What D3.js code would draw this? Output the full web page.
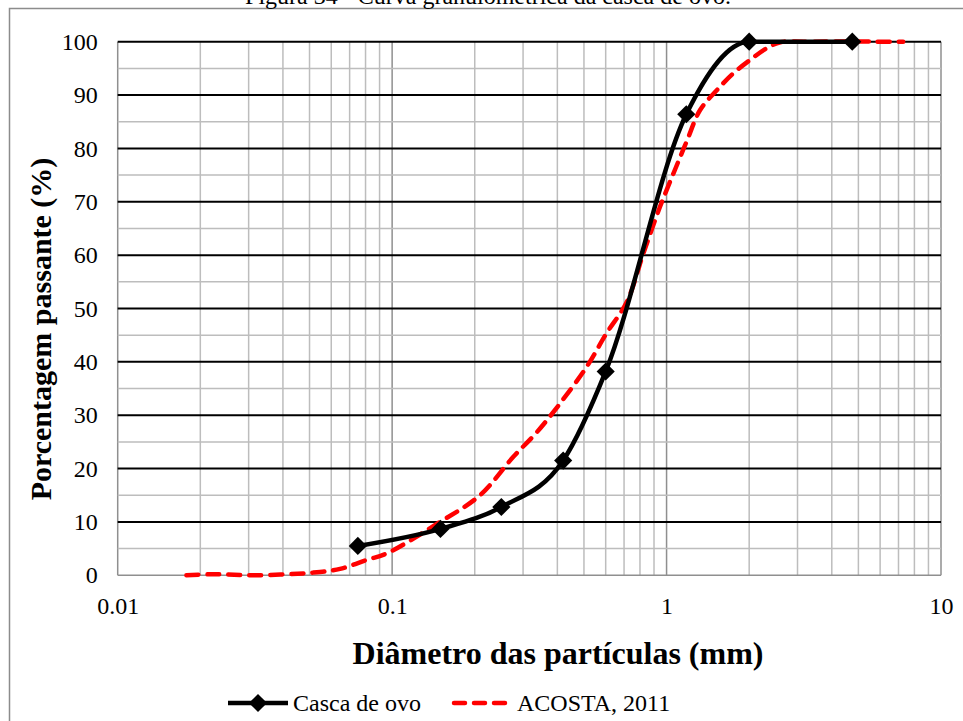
<!DOCTYPE html>
<html>
<head>
<meta charset="utf-8">
<script src="https://cdn.jsdelivr.net/npm/d3@7"></script>
<style>
  body { margin: 0; background: #fff; }
  svg { display: block; font-family: "Liberation Serif", "Times New Roman", serif; }
</style>
</head>
<body>
<div class="chart"></div>
<script>
'use strict'

let width = 963;
let height = 721;
const margin = {left: 117.7, right: 22, top: 41.7, bottom: 145.7};

/* Casca de ovo: diâmetro (mm) e porcentagem passante */
const cascaDiam = [0.075, 0.15, 0.25, 0.42, 0.6, 1.18, 2, 4.75];
const cascaPass = [5.5, 8.7, 12.8, 21.5, 38.2, 86.4, 100, 100];

/* ACOSTA, 2011 */
const acostaDiam = [0.0178, 0.0223, 0.0311, 0.0515, 0.0646, 0.0809, 0.0955, 0.1495, 0.209, 0.2765, 0.3365, 0.409, 0.512, 0.605, 0.716, 0.823, 0.947, 1.073, 1.19, 1.325, 1.524, 1.753, 2.018, 2.32, 2.6, 3.2, 7.28];
const acostaPass = [0, 0.2, 0, 0.5, 1.2, 2.9, 4.1, 10.0, 15.0, 22.2, 26.8, 32.2, 39.1, 45.4, 51.2, 60.3, 69.1, 76.0, 81.6, 87.2, 90.9, 94.1, 96.6, 98.8, 99.9, 100, 100];

const xTicks = [0.01, 0.1, 1, 10];
const xTickLabels = ['0.01', '0.1', '1', '10'];
const yTicks = [0, 10, 20, 30, 40, 50, 60, 70, 80, 90, 100];

const legendNames = ['Casca de ovo', 'ACOSTA, 2011'];

const svg = d3.select('.chart')
              .append('svg')
              .attr('width', width)
              .attr('height', height);

/* outer frame + caption (cut at the top, as in the source) */
svg.append('rect')
   .attr('x', 9.5).attr('y', 8.5)
   .attr('width', 970).attr('height', 730)
   .style('fill', 'none')
   .style('stroke', '#8c8c8c')
   .style('stroke-width', 1.5);

svg.append('text')
   .attr('x', 488).attr('y', 4)
   .attr('text-anchor', 'middle')
   .style('font-size', '24px')
   .text('Figura 34 - Curva granulométrica da casca de ovo.');

const xScale = d3.scaleLog()
                 .domain([0.01, 10])
                 .range([margin.left, width - margin.right]);
const yScale = d3.scaleLinear()
                 .domain([0, 100])
                 .range([height - margin.bottom, margin.top]);

const plotTop = yScale(100), plotBottom = yScale(0);
const plotLeft = xScale(0.01), plotRight = xScale(10);

/* vertical grid */
const minorX = [];
[0.01, 0.1, 1].forEach(dec => {
    for (let k = 2; k <= 9; k++) minorX.push(dec * k);
});
svg.append('g').selectAll('line')
   .data(minorX).enter().append('line')
   .attr('x1', d => xScale(d)).attr('x2', d => xScale(d))
   .attr('y1', plotTop).attr('y2', plotBottom)
   .style('stroke', '#bdbdbd').style('stroke-width', 1.5);
svg.append('g').selectAll('line')
   .data(xTicks).enter().append('line')
   .attr('x1', d => xScale(d)).attr('x2', d => xScale(d))
   .attr('y1', plotTop).attr('y2', plotBottom)
   .style('stroke', '#8f8f8f').style('stroke-width', 1.5);

/* horizontal grid */
const minorY = d3.range(5, 100, 10);
svg.append('g').selectAll('line')
   .data(minorY).enter().append('line')
   .attr('x1', plotLeft).attr('x2', plotRight)
   .attr('y1', d => yScale(d)).attr('y2', d => yScale(d))
   .style('stroke', '#bdbdbd').style('stroke-width', 1.5);
svg.append('g').selectAll('line')
   .data(yTicks.filter(d => d > 0)).enter().append('line')
   .attr('x1', plotLeft).attr('x2', plotRight)
   .attr('y1', d => yScale(d)).attr('y2', d => yScale(d))
   .style('stroke', '#000').style('stroke-width', 2);
svg.append('line')
   .attr('x1', plotLeft).attr('x2', plotRight)
   .attr('y1', plotBottom).attr('y2', plotBottom)
   .style('stroke', '#8f8f8f').style('stroke-width', 1.5);

/* axes */
const xAxis = d3.axisBottom(xScale)
                .tickValues(xTicks)
                .tickFormat((d, i) => xTickLabels[i])
                .tickSize(0)
                .tickPadding(22);
const gx = svg.append('g')
   .attr('transform', 'translate(0,' + plotBottom + ')')
   .call(xAxis);

const yAxis = d3.axisLeft(yScale)
                .tickValues(yTicks)
                .tickSize(0)
                .tickPadding(20);
const gy = svg.append('g')
   .attr('transform', 'translate(' + plotLeft + ',0)')
   .call(yAxis);

[gx, gy].forEach(g => {
    g.select('.domain').remove();
    g.selectAll('text')
     .style('font-family', '"Liberation Serif", serif')
     .style('font-size', '24px')
     .style('fill', '#000');
});

/* axis titles */
svg.append('text')
   .attr('x', 558)
   .attr('y', 664)
   .attr('text-anchor', 'middle')
   .style('font-size', '32px')
   .style('font-weight', 'bold')
   .text('Diâmetro das partículas (mm)');

svg.append('text')
   .attr('transform', 'translate(51,' + 329 + ') rotate(-90)')
   .attr('text-anchor', 'middle')
   .style('font-size', '30px')
   .style('font-weight', 'bold')
   .text('Porcentagem passante (%)');

/* series */
const acosta = acostaDiam.map((d, i) => [d, acostaPass[i]]);
const casca = cascaDiam.map((d, i) => [d, cascaPass[i]]);

const line = d3.line()
               .x(d => xScale(d[0]))
               .y(d => yScale(d[1]))
               .curve(d3.curveMonotoneX);
const smooth = d3.line()
               .x(d => xScale(d[0]))
               .y(d => yScale(d[1]))
               .curve(d3.curveCatmullRom.alpha(0.5));

svg.append('path')
   .datum(acosta)
   .attr('d', smooth)
   .style('fill', 'none')
   .style('stroke', '#ff0000')
   .style('stroke-width', 4.5)
   .style('stroke-dasharray', '12,9')
   .style('stroke-linecap', 'round');

svg.append('path')
   .datum(casca)
   .attr('d', line)
   .style('fill', 'none')
   .style('stroke', '#000')
   .style('stroke-width', 4.5);

const diamond = d3.symbol(d3.symbolSquare, 165);
svg.append('g').selectAll('path')
   .data(casca).enter().append('path')
   .attr('d', diamond)
   .attr('transform', d => 'translate(' + xScale(d[0]) + ',' + yScale(d[1]) + ') rotate(45)')
   .style('fill', '#000');

/* legend */
const legY = 703;
const leg = svg.append('g');
leg.append('line')
   .attr('x1', 228).attr('x2', 288).attr('y1', legY).attr('y2', legY)
   .style('stroke', '#000').style('stroke-width', 4.5);
leg.append('path')
   .attr('d', diamond)
   .attr('transform', 'translate(258,' + legY + ') rotate(45)')
   .style('fill', '#000');
leg.append('text')
   .attr('x', 293).attr('y', legY + 8)
   .style('font-size', '24px')
   .text(legendNames[0]);

leg.append('line')
   .attr('x1', 454).attr('x2', 511).attr('y1', legY).attr('y2', legY)
   .style('stroke', '#ff0000').style('stroke-width', 4.5)
   .style('stroke-dasharray', '11,9')
   .style('stroke-linecap', 'round');
leg.append('text')
   .attr('x', 517).attr('y', legY + 8)
   .style('font-size', '24px')
   .text(legendNames[1]);
</script>
</body>
</html>
